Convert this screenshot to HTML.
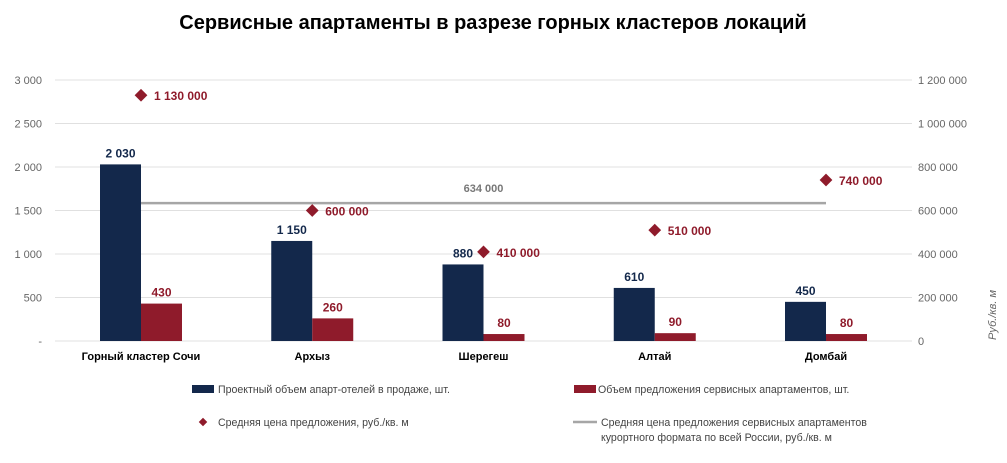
<!DOCTYPE html>
<html><head><meta charset="utf-8"><style>
body{margin:0;background:#fff;width:1007px;height:458px;overflow:hidden;font-family:"Liberation Sans",sans-serif}
</style></head><body>
<svg id="c" width="1007" height="458" xmlns="http://www.w3.org/2000/svg">
<text x="493" y="29" text-anchor="middle" font-size="20" font-weight="bold" fill="#000">Сервисные апартаменты в разрезе горных кластеров локаций</text>
<g id="grid"></g><g id="marks"></g>
<text transform="translate(996,315) rotate(-90)" text-anchor="middle" font-size="11" font-style="italic" fill="#666">Руб./кв. м</text>
<g font-size="10.6" fill="#444">
<rect x="192" y="385" width="22" height="8" fill="#13284b"/>
<text x="218" y="393">Проектный объем апарт-отелей в продаже, шт.</text>
<rect x="574" y="385" width="22" height="8" fill="#8f1b2b"/>
<text x="598" y="393">Объем предложения сервисных апартаментов, шт.</text>
<rect x="200" y="419" width="6" height="6" fill="#8f1b2b" transform="rotate(45 203 422)"/>
<text x="218" y="426">Средняя цена предложения, руб./кв. м</text>
<line x1="573" y1="422" x2="597" y2="422" stroke="#a6a6a6" stroke-width="2.5"/>
<text x="601" y="426">Средняя цена предложения сервисных апартаментов</text>
<text x="601" y="441">курортного формата по всей России, руб./кв. м</text>
</g>
</svg>
<script>
const categories=["Горный кластер Сочи","Архыз","Шерегеш","Алтай","Домбай"];
const projects=[2030,1150,880,610,450];
const offers=[430,260,80,90,80];
const prices=[1130000,600000,410000,510000,740000];
const russiaAvg=634000;
const leftTicks=[0,500,1000,1500,2000,2500,3000];
const rightTicks=[0,200000,400000,600000,800000,1000000,1200000];
const NS="http://www.w3.org/2000/svg";
const y0=341,yTop=80,x0=55,x1=912;
const yL=v=>y0-(v/3000)*(y0-yTop);
const yR=v=>y0-(v/1200000)*(y0-yTop);
const cx=i=>141+i*171.25;
const fmt=v=>v===0?"-":String(v).replace(/\B(?=(\d{3})+(?!\d))/g," ");
function el(t,a,p,txt){const e=document.createElementNS(NS,t);for(const k in a)e.setAttribute(k,a[k]);if(txt!==undefined)e.textContent=txt;p.appendChild(e);return e;}
const g=document.getElementById('grid'),m=document.getElementById('marks');
leftTicks.forEach(v=>{
 const l=el('line',{x1:x0,x2:x1,y1:yL(v),y2:yL(v),stroke:'#e0e0e0','stroke-width':1},g);
 
 
 const t=el('text',{x:42,y:yL(v)+4,'text-anchor':'end','font-size':11,fill:'#666'},g,fmt(v));
 
 
});
rightTicks.forEach(v=>{
 const t=el('text',{x:918,y:yR(v)+4,'font-size':11,fill:'#666'},g,v===0?"0":fmt(v));
 
 
});
categories.forEach((c,i)=>{
 const x=cx(i);
 const t=el('text',{x:x,y:360,'text-anchor':'middle','font-size':11,'font-weight':'bold',fill:'#000'},m,c);
 
 
 const b1=el('rect',{x:x-41,y:yL(projects[i]),width:41,height:y0-yL(projects[i]),fill:'#13284b'},m);
 
 
 const l1=el('text',{x:x-20.5,y:yL(projects[i])-7,'text-anchor':'middle','font-size':12,'font-weight':'bold',fill:'#13284b'},m,fmt(projects[i]));
 
 
 const b2=el('rect',{x:x,y:yL(offers[i]),width:41,height:y0-yL(offers[i]),fill:'#8f1b2b'},m);
 
 
 const l2=el('text',{x:x+20.5,y:yL(offers[i])-7,'text-anchor':'middle','font-size':12,'font-weight':'bold',fill:'#8f1b2b'},m,fmt(offers[i]));
 
 
});
const ry=yR(russiaAvg);
const ln=el('line',{x1:cx(0),x2:cx(4),y1:ry,y2:ry,stroke:'#a6a6a6','stroke-width':2.5},m);


const lt=el('text',{x:(cx(0)+cx(4))/2,y:ry-11,'text-anchor':'middle','font-size':11,'font-weight':'bold',fill:'#777'},m,fmt(russiaAvg));


prices.forEach((v,i)=>{
 const x=cx(i),y=yR(v);
 const d=el('rect',{x:x-4.5,y:y-4.5,width:9,height:9,fill:'#8f1b2b',transform:`rotate(45 ${x} ${y})`},m);
 
 
 const t=el('text',{x:x+13,y:y+5,'font-size':12,'font-weight':'bold',fill:'#8f1b2b'},m,fmt(v));
 
 
});
</script>
</body></html>
